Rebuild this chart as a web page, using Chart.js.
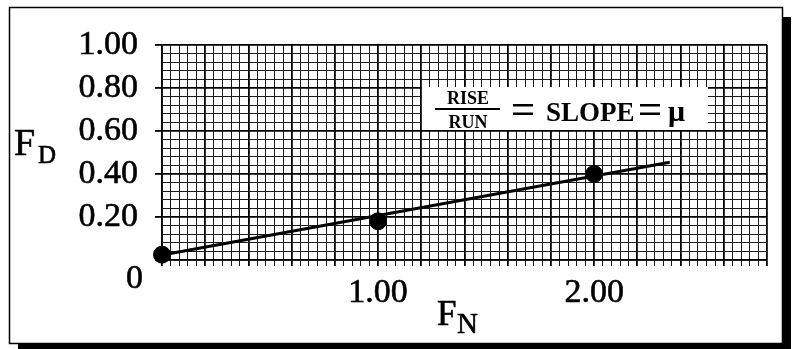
<!DOCTYPE html>
<html>
<head>
<meta charset="utf-8">
<script src="https://cdn.jsdelivr.net/npm/chart.js@4/dist/chart.umd.min.js"></script>
<style>
  html, body { margin: 0; padding: 0; background: #fff; }
  #wrap { width: 796px; height: 349px; }
</style>
</head>
<body>
<div id="wrap"><canvas id="chart" width="796" height="349"></canvas></div>
<script>
// measured points (F_N, F_D)
const fnValues = [0, 1.0, 2.0];
const fdValues = [0.025, 0.18, 0.40];

// best-fit line drawn by hand on the sheet
const fitX = [0, 2.35];
const fitY = [0.023, 0.455];

// labelled ticks
const xTickLabels = [1.0, 2.0];
const yTickLabels = [0.2, 0.4, 0.6, 0.8, 1.0];

const SERIF = "'Liberation Serif', 'Times New Roman', serif";

const near = (v, list) => list.some(t => Math.abs(v - t) < 1e-6);
const isMajor = v => Math.abs(v / 0.2 - Math.round(v / 0.2)) < 1e-6;

const gridColor = ctx => (ctx.tick && isMajor(ctx.tick.value) ? '#000' : '#1a1a1a');
const gridWidth = ctx => (ctx.tick && isMajor(ctx.tick.value) ? 1.8 : 1);

// frame, shadow and hand-lettered labels
const sheetPlugin = {
  id: 'sheet',
  beforeDraw(chart) {
    const c = chart.ctx;
    c.save();
    c.fillStyle = '#fff';
    c.fillRect(0, 0, chart.width, chart.height);
    // drop shadow
    c.fillStyle = '#000';
    c.fillRect(783, 17, 8, 332);
    c.fillRect(18, 343, 773, 6);
    // frame
    c.strokeStyle = '#000';
    c.lineWidth = 1.5;
    c.strokeRect(9.5, 7.5, 773, 336);
    c.restore();
  },
  afterDraw(chart) {
    const c = chart.ctx;
    c.save();
    c.fillStyle = '#000';
    c.strokeStyle = '#000';
    c.lineWidth = 0.6;
    c.textAlign = 'left';
    c.textBaseline = 'alphabetic';
    const text = (s, x, y) => { c.fillText(s, x, y); c.strokeText(s, x, y); };

    // origin label
    c.font = '34px ' + SERIF;
    text('0', 126, 288);

    // F_D
    c.font = '38px ' + SERIF;
    text('F', 14, 155);
    c.font = '25px ' + SERIF;
    text('D', 38, 163);

    // F_N
    c.font = '35px ' + SERIF;
    text('F', 437, 325);
    c.font = '29px ' + SERIF;
    text('N', 457, 333);

    // RISE / RUN = SLOPE = mu
    c.fillStyle = '#fff';
    c.fillRect(422, 87, 286, 43);
    c.fillStyle = '#000';
    c.textAlign = 'center';
    c.font = 'bold 18px ' + SERIF;
    c.fillText('RISE', 468, 104);
    c.fillText('RUN', 468, 128);
    c.fillRect(435, 108, 65, 2);
    c.textAlign = 'left';
    c.font = 'bold 27px ' + SERIF;
    c.fillText('SLOPE', 546, 121);
    c.font = 'bold 30px ' + SERIF;
    c.fillText('\u03bc', 668, 121);
    // equals signs
    c.fillRect(513, 104, 20, 2.5);
    c.fillRect(513, 112.5, 20, 2.5);
    c.fillRect(640, 104, 20, 2.5);
    c.fillRect(640, 112.5, 20, 2.5);
    c.restore();
  }
};

new Chart(document.getElementById('chart'), {
  type: 'scatter',
  data: {
    datasets: [
      {
        type: 'line',
        data: fitX.map((x, i) => ({ x, y: fitY[i] })),
        borderColor: '#000',
        borderWidth: 3,
        pointRadius: 0,
        fill: false,
        clip: false,
      },
      {
        data: fnValues.map((x, i) => ({ x, y: fdValues[i] })),
        backgroundColor: '#000',
        borderColor: '#000',
        pointRadius: 8.5,
        clip: false,
      },
    ],
  },
  options: {
    responsive: false,
    animation: false,
    events: [],
    layout: { padding: { left: 0, top: 45, right: 29, bottom: 0 } },
    plugins: { legend: { display: false }, tooltip: { enabled: false } },
    scales: {
      x: {
        type: 'linear',
        min: 0,
        max: 2.8,
        afterFit: s => { s.height = 89; },
        border: { color: '#000', width: 1.5 },
        grid: { color: gridColor, lineWidth: gridWidth, tickLength: 6, tickColor: gridColor, tickWidth: gridWidth },
        ticks: {
          stepSize: 0.04,
          autoSkip: false,
          maxRotation: 0,
          minRotation: 0,
          padding: 7,
          color: '#000',
          textStrokeColor: '#000',
          textStrokeWidth: 0.6,
          font: { family: SERIF, size: 34 },
          callback: v => (near(v, xTickLabels) ? v.toFixed(2) : ''),
        },
      },
      y: {
        min: 0,
        max: 1,
        afterFit: s => { s.width = 162; },
        border: { color: '#000', width: 1.5 },
        grid: {
          color: gridColor,
          lineWidth: gridWidth,
          tickLength: 7,
          tickColor: ctx => (ctx.tick && isMajor(ctx.tick.value) ? '#000' : 'rgba(0,0,0,0)'),
          tickWidth: gridWidth,
        },
        ticks: {
          stepSize: 0.04,
          autoSkip: false,
          padding: 17,
          color: '#000',
          textStrokeColor: '#000',
          textStrokeWidth: 0.6,
          font: { family: SERIF, size: 34 },
          callback: v => (near(v, yTickLabels) ? v.toFixed(2) : ''),
        },
      },
    },
  },
  plugins: [sheetPlugin],
});
</script>
</body>
</html>
